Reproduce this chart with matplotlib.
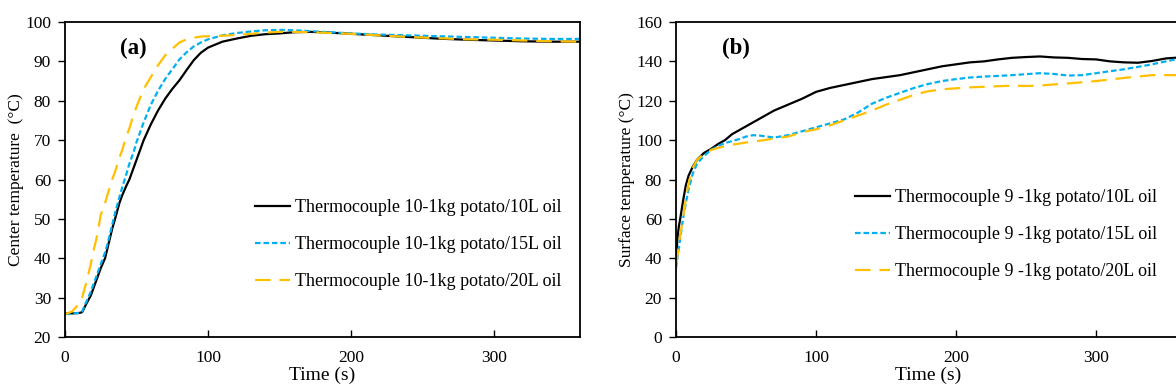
import matplotlib
matplotlib.use("Agg")
import matplotlib.pyplot as plt

plt.rcParams['font.family'] = ['Liberation Serif', 'DejaVu Serif']

# ---------------- Panel (a): center temperature ----------------
time_a = [0, 5, 10, 12, 15, 18, 20, 22, 25, 28, 30, 33, 35, 38, 40, 43, 45, 48, 50,
          55, 60, 65, 70, 75, 80, 85, 90, 95, 100, 110, 120, 130, 140, 150, 160,
          170, 180, 190, 200, 220, 240, 260, 280, 300, 320, 340, 360]
tc10_10L = [26.0, 26.0, 26.1, 26.3, 28.5, 30.5, 32.5, 34.5, 37.5, 40.0, 43.0, 47.5, 50.0,
            54.0, 56.0, 58.5, 60.0, 63.0, 65.0, 70.0, 74.0, 77.5, 80.5, 83.0, 85.2, 87.8,
            90.3, 92.2, 93.5, 95.0, 95.8, 96.5, 96.9, 97.1, 97.4, 97.5, 97.4, 97.2, 97.0,
            96.6, 96.2, 95.8, 95.5, 95.3, 95.1, 95.0, 95.0]
tc10_15L = [25.8, 26.0, 26.1, 26.5, 29.0, 31.5, 33.5, 35.5, 38.5, 41.5, 44.0, 48.5, 51.5,
            55.5, 58.0, 61.5, 64.0, 67.0, 69.5, 74.5, 79.0, 82.5, 85.5, 88.0, 90.5, 92.3,
            93.8, 94.8, 95.6, 96.6, 97.2, 97.6, 97.9, 98.0, 97.9, 97.7, 97.5, 97.3, 97.1,
            96.8, 96.6, 96.4, 96.2, 96.0, 95.8, 95.7, 95.7]
tc10_20L = [25.8, 26.5, 28.5, 30.0, 34.0, 38.5, 42.0, 45.0, 51.0, 54.0, 56.5, 60.0, 62.0,
            65.5, 67.5, 71.0, 73.0, 76.5, 78.5, 83.0, 86.0, 89.0, 91.5, 93.2, 94.8, 95.6,
            96.0, 96.3, 96.4, 96.5, 96.7, 97.0, 97.3, 97.5, 97.5, 97.4, 97.3, 97.1, 97.0,
            96.6, 96.2, 95.9, 95.6, 95.5, 95.3, 95.1, 95.0]
labels_a = ["Thermocouple 10-1kg potato/10L oil",
            "Thermocouple 10-1kg potato/15L oil",
            "Thermocouple 10-1kg potato/20L oil"]

# ---------------- Panel (b): surface temperature ----------------
time_b = [0, 1, 2, 3, 5, 7, 9, 12, 15, 20, 25, 30, 35, 40, 45, 50, 55, 60, 70, 80, 90,
          100, 110, 120, 130, 140, 150, 160, 170, 180, 190, 200, 210, 220, 230, 240,
          250, 260, 270, 280, 290, 300, 310, 320, 330, 340, 350, 360]
tc9_10L = [38, 50, 56, 60, 69, 77, 82, 86.5, 90, 93.5, 95.5, 98, 100, 103, 105, 107, 109,
           111, 115, 118, 121, 124.5, 126.5, 128, 129.5, 131, 132, 133, 134.5, 136, 137.5,
           138.5, 139.5, 140, 141, 141.8, 142.2, 142.5, 142, 141.8, 141.2, 141, 140,
           139.5, 139.3, 140.2, 141.5, 142]
tc9_15L = [35, 40, 45, 50, 60, 68, 75, 83, 88, 92, 95, 97, 98.5, 99.5, 100.5, 101.8, 102.5,
           102.3, 101.3, 102.5, 104.5, 106.5, 108.5, 110.5, 114, 118.5, 121.5, 124, 126.5,
           128.5, 130, 131, 131.8, 132.3, 132.6, 133, 133.5, 134, 133.6, 132.8, 133, 134,
           135, 136, 137.2, 138.5, 140, 141.5]
tc9_20L = [37, 41, 46, 52, 60, 70, 78, 86, 90, 93, 95, 96, 97, 97.7, 98.2, 98.8, 99.3, 99.7,
           100.8, 101.8, 104, 105.5, 107.5, 110, 112.5, 115, 118, 120.5, 123, 124.8, 125.8,
           126.3, 126.8, 127.1, 127.4, 127.6, 127.5, 127.7, 128.3, 128.8, 129.4, 130,
           130.8, 131.6, 132.3, 133, 133, 133]
labels_b = ["Thermocouple 9 -1kg potato/10L oil",
            "Thermocouple 9 -1kg potato/15L oil",
            "Thermocouple 9 -1kg potato/20L oil"]

W, H = 1176, 392
fig = plt.figure(figsize=(W / 100, H / 100), dpi=100)

BLACK = "#000000"
BLUE = "#00B0F0"
ORANGE = "#FFC000"

TICK_FS = 12.5
LABEL_FS = 12.5
XLABEL_FS = 14
LEG_FS = 13
PANEL_FS = 16.5


def style(ax):
    for s in ax.spines.values():
        s.set_linewidth(1.3)
        s.set_color("black")
    ax.tick_params(axis='y', direction='out', length=5, width=1, labelsize=TICK_FS, pad=5)
    ax.tick_params(axis='x', direction='in', length=5, width=1, labelsize=TICK_FS, pad=9)


def plot_series(ax, t, s1, s2, s3, labels):
    ax.plot(t, s1, color=BLACK, lw=1.6, label=labels[0])
    ax.plot(t, s2, color=BLUE, lw=1.6, dashes=(2.5, 1.3), label=labels[1])
    ax.plot(t, s3, color=ORANGE, lw=1.6, dashes=(7, 4), label=labels[2])


# Panel (a)
ax1 = fig.add_axes([65 / W, 1 - 337 / H, (580 - 65) / W, (337 - 22) / H])
plot_series(ax1, time_a, tc10_10L, tc10_15L, tc10_20L, labels_a)
ax1.set_xlim(0, 360)
ax1.set_ylim(20, 100)
ax1.set_xticks([0, 100, 200, 300])
ax1.set_yticks(range(20, 101, 10))
style(ax1)
ax1.set_xlabel("Time (s)", fontsize=XLABEL_FS, labelpad=1)
ax1.set_ylabel("Center temperature  (°C)", fontsize=LABEL_FS, labelpad=1)
ax1.text(55 / 515, (337 - 48) / 315, "(a)", transform=ax1.transAxes,
         fontsize=PANEL_FS, fontweight='bold', va='center')
ax1.legend(loc='upper left', bbox_to_anchor=(255 / W, 1 - 199.5 / H),
           bbox_transform=fig.transFigure, frameon=False, fontsize=LEG_FS,
           handlelength=1.95, handletextpad=0.28, labelspacing=1.1,
           borderpad=0, borderaxespad=0)

# Panel (b)
ax2 = fig.add_axes([676 / W, 1 - 337 / H, 504 / W, (337 - 22) / H])
plot_series(ax2, time_b, tc9_10L, tc9_15L, tc9_20L, labels_b)
ax2.set_xlim(0, 360)
ax2.set_ylim(0, 160)
ax2.set_xticks([0, 100, 200, 300])
ax2.set_yticks(range(0, 161, 20))
style(ax2)
ax2.set_xlabel("Time (s)", fontsize=XLABEL_FS, labelpad=1)
ax2.set_ylabel("Surface temperature (°C)", fontsize=LABEL_FS, labelpad=1)
ax2.text(46 / 504, (337 - 48) / 315, "(b)", transform=ax2.transAxes,
         fontsize=PANEL_FS, fontweight='bold', va='center')
ax2.legend(loc='upper left', bbox_to_anchor=(855 / W, 1 - 189.5 / H),
           bbox_transform=fig.transFigure, frameon=False, fontsize=LEG_FS,
           handlelength=1.95, handletextpad=0.28, labelspacing=1.1,
           borderpad=0, borderaxespad=0)

fig.savefig("out.png", dpi=100)
